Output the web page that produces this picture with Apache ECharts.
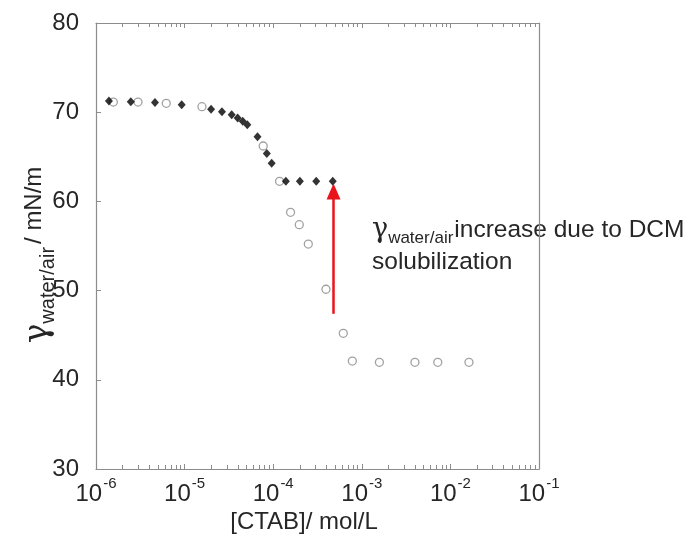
<!DOCTYPE html>
<html>
<head>
<meta charset="utf-8">
<script src="https://cdn.jsdelivr.net/npm/echarts@6/dist/echarts.min.js"></script>
<style>
  html, body { margin: 0; padding: 0; background: #fff; }
  #main { width: 688px; height: 534px; }
</style>
</head>
<body>
<div id="main"></div>
<script>
// CTAB concentration (mol/L) and surface tension (mN/m)
var filledX = [1.40e-6, 2.47e-6, 4.63e-6, 9.27e-6, 1.99e-5, 2.64e-5, 3.40e-5, 3.97e-5, 4.53e-5, 5.10e-5,
               6.65e-5, 8.47e-5, 9.61e-5, 1.39e-4, 2.00e-4, 3.06e-4, 4.70e-4];
var filledY = [71.26, 71.18, 71.1, 70.84, 70.33, 70.06, 69.72, 69.35, 68.98, 68.6,
               67.25, 65.36, 64.27, 62.25, 62.25, 62.25, 62.25];
var openX = [1.57e-6, 2.98e-6, 6.21e-6, 1.57e-5, 7.71e-5, 1.18e-4, 1.57e-4, 1.97e-4, 2.49e-4, 3.94e-4,
             6.18e-4, 7.82e-4, 1.58e-3, 3.98e-3, 7.2e-3, 1.62e-2];
var openY = [71.14, 71.14, 71.0, 70.62, 66.21, 62.25, 58.78, 57.39, 55.22, 50.15,
             45.21, 42.1, 41.96, 41.96, 41.96, 41.96];
// red arrow: x, from y, to y
var arrowX = 4.8e-4;
var arrowFrom = 47.4;
var arrowTo = 61.1;

var xMin = 1e-6, xMax = 1e-1;
var yMin = 30, yMax = 80, yStep = 10;

function zip(xs, ys) {
  return xs.map(function (x, i) { return [x, ys[i]]; });
}

var axisColor = '#8c8c8c';
var textColor = '#262626';
var font = 'Liberation Sans, Arial, sans-serif';

function logLabel(v) {
  var e = Math.round(Math.log10(v));
  return '{b|10}{s|' + e + '}';
}

var chart = echarts.init(document.getElementById('main'));

var option = {
  backgroundColor: '#fff',
  animation: false,
  grid: { left: 96, right: 149, top: 23, bottom: 65 },
  xAxis: [{
    type: 'log',
    logBase: 10,
    min: xMin,
    max: xMax,
    position: 'bottom',
    axisLine: { lineStyle: { color: axisColor, width: 1.2 } },
    axisTick: { inside: true, length: 5, lineStyle: { color: axisColor } },
    minorTick: { show: true, splitNumber: 9, length: 4, lineStyle: { color: axisColor } },
    splitLine: { show: false },
    axisLabel: {
      margin: 7,
      formatter: logLabel,
      rich: {
        b: { fontSize: 24, color: textColor, fontFamily: font, lineHeight: 30, verticalAlign: 'bottom' },
        s: { fontSize: 15, color: textColor, fontFamily: font, lineHeight: 30, verticalAlign: 'top', padding: [0, 0, 0, 1] }
      }
    }
  }, {
    type: 'log',
    logBase: 10,
    min: xMin,
    max: xMax,
    position: 'top',
    axisLine: { lineStyle: { color: axisColor, width: 1.2 } },
    axisTick: { inside: true, length: 5, lineStyle: { color: axisColor } },
    minorTick: { show: true, splitNumber: 9, length: 4, lineStyle: { color: axisColor } },
    splitLine: { show: false },
    axisLabel: { show: false }
  }],
  yAxis: [{
    type: 'value',
    min: yMin,
    max: yMax,
    interval: yStep,
    position: 'left',
    axisLine: { show: true, lineStyle: { color: axisColor, width: 1.2 } },
    axisTick: { show: true, inside: true, length: 5, lineStyle: { color: axisColor } },
    splitLine: { show: false },
    axisLabel: { margin: 17, fontSize: 24, color: textColor, fontFamily: font }
  }, {
    type: 'value',
    min: yMin,
    max: yMax,
    interval: yStep,
    position: 'right',
    axisLine: { show: true, lineStyle: { color: axisColor, width: 1.2 } },
    axisTick: { show: false },
    splitLine: { show: false },
    axisLabel: { show: false }
  }],
  graphic: [{
    // y axis title
    type: 'text',
    x: 38,
    y: 255,
    rotation: Math.PI / 2,
    style: {
      text: '{g|γ}{w|water/air}{u|/ mN/m}',
      align: 'center',
      verticalAlign: 'middle',
      rich: {
        g: { fontSize: 33, fontFamily: 'DejaVu Serif, serif', fill: textColor, lineHeight: 40, verticalAlign: 'middle' },
        w: { fontSize: 20, fontFamily: font, fill: textColor, lineHeight: 40, verticalAlign: 'bottom', padding: [0, 3, 0, 0] },
        u: { fontSize: 24, fontFamily: font, fill: textColor, lineHeight: 40, verticalAlign: 'top', padding: [4, 0, 0, 0] }
      }
    }
  }, {
    // x axis title
    type: 'text',
    x: 304,
    y: 522,
    style: {
      text: '[CTAB]/ mol/L',
      align: 'center',
      verticalAlign: 'middle',
      fontSize: 24,
      fontFamily: font,
      fill: textColor
    }
  }, {
    type: 'text',
    x: 372,
    y: 230,
    style: {
      text: '{g|γ}{w|water/air}{t|increase due to DCM}',
      align: 'left',
      verticalAlign: 'middle',
      rich: {
        g: { fontSize: 27, fontFamily: 'DejaVu Serif, serif', fill: textColor, lineHeight: 34, verticalAlign: 'middle' },
        w: { fontSize: 17, fontFamily: font, fill: textColor, lineHeight: 26, verticalAlign: 'bottom', padding: [0, 1, 0, 0] },
        t: { fontSize: 24.5, fontFamily: font, fill: textColor, lineHeight: 34, verticalAlign: 'middle' }
      }
    }
  }, {
    type: 'text',
    x: 372,
    y: 262,
    style: {
      text: 'solubilization',
      align: 'left',
      verticalAlign: 'middle',
      fontSize: 24.5,
      fontFamily: font,
      fill: textColor
    }
  }],
  series: [{
    name: 'open',
    type: 'scatter',
    symbol: 'circle',
    symbolSize: 8,
    itemStyle: { color: '#fff', borderColor: '#8a8a8a', borderWidth: 1.3 },
    data: zip(openX, openY),
    z: 2
  }, {
    name: 'filled',
    type: 'scatter',
    symbol: 'diamond',
    symbolSize: [8, 9],
    itemStyle: { color: '#000' },
    data: zip(filledX, filledY),
    z: 3,
    markLine: {
      silent: true,
      symbol: ['none', 'triangle'],
      symbolSize: [14, 16],
      label: { show: false },
      lineStyle: { color: '#e8151b', width: 2.5, type: 'solid' },
      data: [[{ coord: [arrowX, arrowFrom] }, { coord: [arrowX, arrowTo] }]]
    }
  }]
};

chart.setOption(option);
</script>
</body>
</html>
